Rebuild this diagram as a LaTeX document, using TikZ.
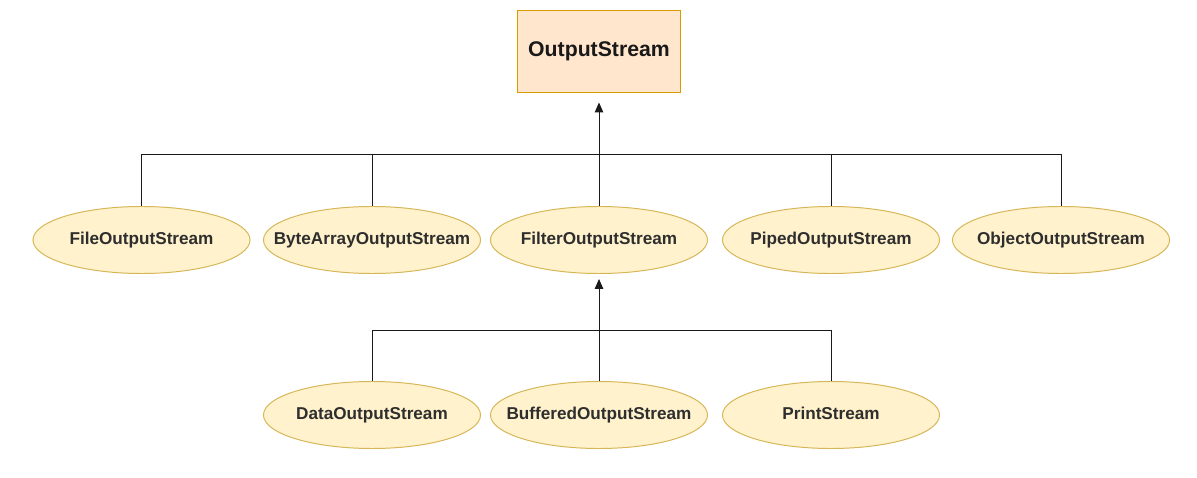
\documentclass[tikz,border=0pt]{standalone}
\usepackage{fontspec}
\setmainfont{Liberation Sans}
\usetikzlibrary{shapes.geometric,arrows.meta}
\definecolor{boxfill}{HTML}{FFE6CC}
\definecolor{boxline}{HTML}{D79B00}
\definecolor{ellfill}{HTML}{FFF2CC}
\definecolor{ellline}{HTML}{D6B656}
\definecolor{edge}{HTML}{1A1A1A}
\tikzset{
  rootbox/.style={draw=boxline, fill=boxfill, line width=0.7pt, minimum width=4.05cm, minimum height=2.025cm, inner sep=0pt, font=\bfseries\fontsize{15.1}{17}\selectfont, text=black!90},
  cls/.style={ellipse, draw=ellline, fill=ellfill, line width=0.7pt, minimum width=5.425cm, minimum height=1.675cm, inner ysep=0pt, inner xsep=-1.5cm, text height=1.4ex, text depth=0.3ex, font=\bfseries\fontsize{12.2}{14}\selectfont, text=black!82},
  link/.style={draw=edge, line width=0.7pt},
  inherit/.style={draw=edge, line width=0.7pt, -{Triangle[length=7pt,width=6pt]}}
}
\begin{document}
\begin{tikzpicture}[x=0.025cm, y=-0.025cm]
\useasboundingbox (0,0) rectangle (1197,478);
\node[rootbox] (os) at (599,51.5) {OutputStream};
\node[cls] (fos) at (141.5,240) {FileOutputStream};
\node[cls] (baos) at (372,240) {ByteArrayOutputStream};
\node[cls] (filt) at (599,240) {FilterOutputStream};
\node[cls] (pos) at (831,240) {PipedOutputStream};
\node[cls] (oos) at (1061,240) {ObjectOutputStream};
\node[cls] (dos) at (372,415) {DataOutputStream};
\node[cls] (bos) at (599,415) {BufferedOutputStream};
\node[cls] (ps) at (831,415) {PrintStream};
\coordinate (j1) at (599,154);
\coordinate (j2) at (599,330);
\draw[inherit] (filt.north) -- ([yshift=-0.25cm]os.south);
\draw[link] (fos.north) |- (j1);
\draw[link] (oos.north) |- (j1);
\draw[link] (baos.north) -- (baos.north |- j1);
\draw[link] (pos.north) -- (pos.north |- j1);
\draw[inherit] (bos.north) -- ([yshift=-0.125cm]filt.south);
\draw[link] (dos.north) |- (j2);
\draw[link] (ps.north) |- (j2);
\end{tikzpicture}
\end{document}
